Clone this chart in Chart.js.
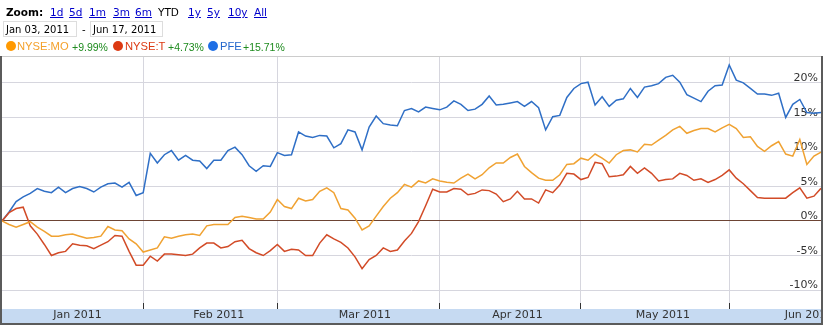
<!DOCTYPE html>
<html>
<head>
<meta charset="utf-8">
<script src="https://cdn.jsdelivr.net/npm/chart.js@4.4.1/dist/chart.umd.min.js"></script>
<style>
html,body{margin:0;padding:0;background:#fff;}
#wrap{position:relative;width:823px;height:325px;overflow:hidden;background:#fff;}
#c{position:absolute;left:0;top:0;}
.t{position:absolute;white-space:nowrap;font-family:"DejaVu Sans",Verdana,sans-serif;line-height:1;z-index:2;}
.r1{font-size:10.5px;top:7px;color:#000;}
.a{color:#0000cc;text-decoration:underline;}
.b{font-weight:bold;}
.box{position:absolute;left:0;top:21px;height:14px;border:1px solid #dddddd;z-index:1;}
.dt{font-size:10px;top:24.5px;color:#000;}
.lg{position:absolute;white-space:nowrap;font-family:"Liberation Sans",Arial,sans-serif;line-height:1;top:41.2px;z-index:2;}
.nm{font-size:11.2px;top:41px;}
.pc{font-size:10.5px;color:#1e8b1e;top:41.6px;}
.dot{position:absolute;top:41px;width:10px;height:10px;border-radius:50%;z-index:2;}
</style>
</head>
<body>
<div id="wrap">
<canvas id="c" width="823" height="325"></canvas>
<span class="t r1 b" style="left:6px">Zoom:</span>
<span class="t r1 a" style="left:50px">1d</span>
<span class="t r1 a" style="left:69px">5d</span>
<span class="t r1 a" style="left:89px">1m</span>
<span class="t r1 a" style="left:113px">3m</span>
<span class="t r1 a" style="left:135px">6m</span>
<span class="t r1" style="left:158px">YTD</span>
<span class="t r1 a" style="left:188px">1y</span>
<span class="t r1 a" style="left:207px">5y</span>
<span class="t r1 a" style="left:228px">10y</span>
<span class="t r1 a" style="left:254px">All</span>
<div class="box" style="left:3px;width:72px"></div>
<span class="t dt" style="left:6px">Jan 03, 2011</span>
<span class="t dt" style="left:82px">-</span>
<div class="box" style="left:90px;width:71px"></div>
<span class="t dt" style="left:93px">Jun 17, 2011</span>
<div id="legend"></div>
</div>
<script>
// ---- data ----
const seriesNames = ['NYSE:MO', 'NYSE:T', 'PFE'];
const seriesChange = ['+9.99%', '+4.73%', '+15.71%'];
const monthLabels = ['Jan 2011', 'Feb 2011', 'Mar 2011', 'Apr 2011', 'May 2011', 'Jun 2011'];
const monthLabelPos = [10.7, 30.7, 51.4, 73.0, 93.6, 114.3];   // trading-day index of label centre
const monthStartIdx = [20, 39, 62, 82, 103];                   // first trading day of Feb..Jun
const yTicks = [-10, -5, 0, 5, 10, 15, 20];

const moValues = [0, -0.5, -0.9, -0.5, -0.1, -0.9, -1.5, -2.2, -2.2, -2.0,
  -1.9, -2.2, -2.5, -2.4, -2.2, -0.8, -1.3, -1.4, -2.6, -3.3,
  -4.5, -4.2, -3.9, -2.3, -2.5, -2.2, -2.0, -1.9, -2.1, -0.7,
  -0.5, -0.5, -0.5, 0.5, 0.7, 0.5, 0.3, 0.3, 1.3, 3.1,
  2.1, 1.8, 3.3, 2.9, 3.1, 4.3, 4.8, 4.1, 1.8, 1.6,
  0.4, -1.3, -0.7, 0.7, 2.1, 3.3, 4.1, 5.3, 4.9, 5.8,
  5.5, 6.1, 5.8, 5.6, 5.5, 6.2, 6.8, 6.1, 6.7, 7.7,
  8.4, 8.4, 9.2, 9.7, 7.9, 7.0, 6.2, 5.9, 5.9, 6.7,
  8.2, 8.3, 9.1, 8.8, 9.7, 9.1, 8.4, 9.6, 10.2, 10.3,
  10.0, 11.1, 11.0, 11.7, 12.4, 13.2, 13.7, 12.7, 13.1, 13.4,
  13.4, 12.9, 13.5, 14.0, 13.4, 12.1, 12.2, 10.8, 10.1, 10.9,
  11.5, 9.7, 9.4, 11.8, 8.2, 9.4, 9.99];

const tValues = [0, 1.2, 1.8, 2.0, -0.7, -1.9, -3.4, -5.0, -4.6, -4.4,
  -3.3, -3.5, -3.6, -4.0, -3.5, -3.0, -2.1, -2.2, -4.4, -6.4,
  -6.4, -5.1, -5.8, -4.8, -4.8, -4.9, -5.0, -4.8, -3.9, -3.2,
  -3.2, -3.9, -3.7, -3.0, -2.8, -4.0, -4.6, -5.0, -4.3, -3.4,
  -4.4, -4.1, -4.2, -5.0, -5.0, -3.2, -2.0, -2.6, -3.1, -3.9,
  -5.2, -6.9, -5.6, -5.0, -3.9, -4.4, -4.2, -2.9, -1.8, -0.1,
  2.2, 4.6, 4.2, 4.2, 4.7, 4.6, 3.8, 4.0, 4.5, 4.4,
  3.9, 2.8, 3.2, 4.3, 3.2, 3.2, 2.6, 4.5, 4.1, 5.2,
  6.9, 6.8, 6.0, 6.3, 8.5, 8.3, 6.4, 6.5, 6.7, 7.9,
  6.9, 7.7, 6.9, 5.8, 6.0, 6.1, 6.9, 6.6, 5.9, 6.1,
  5.6, 6.0, 6.6, 7.4, 6.2, 5.4, 4.4, 3.4, 3.3, 3.3,
  3.3, 3.3, 4.1, 4.8, 3.3, 3.6, 4.73];

const pfeValues = [0, 1.3, 2.8, 3.5, 4.0, 4.7, 4.3, 4.1, 4.9, 4.1,
  4.7, 5.0, 4.7, 4.2, 4.9, 5.4, 5.5, 4.9, 5.6, 3.7,
  4.1, 9.8, 8.4, 9.6, 10.2, 8.8, 9.5, 8.8, 8.7, 7.6,
  8.8, 8.8, 10.2, 10.7, 9.6, 8.0, 7.2, 8.0, 7.9, 9.9,
  9.5, 9.6, 12.9, 12.3, 12.1, 12.4, 12.3, 10.6, 11.2, 13.2,
  12.9, 10.3, 13.6, 15.2, 14.1, 13.9, 13.8, 16.0, 16.3, 15.8,
  16.5, 16.3, 16.1, 16.5, 17.4, 16.9, 16.0, 16.2, 16.9, 18.1,
  16.8, 16.9, 17.1, 17.3, 16.6, 17.3, 16.4, 13.2, 15.1, 15.3,
  17.9, 19.2, 19.9, 20.1, 16.8, 18.0, 16.6, 17.5, 17.7, 19.2,
  17.9, 19.4, 19.6, 19.9, 20.8, 21.1, 20.1, 18.3, 17.8, 17.3,
  18.8, 19.6, 19.7, 22.6, 20.4, 20.0, 19.2, 18.4, 18.4, 18.2,
  18.5, 15.0, 16.9, 17.6, 15.7, 15.6, 15.71];

// ---- styles ----
const lineColors = ['#f0a232', '#d24b27', '#2f6fc6'];
const dotColors = ['#ff9900', '#dc3912', '#1f6fe5'];
const nameColors = ['#f4a02a', '#dc3912', '#2467cc'];
const legendPos = [[6, 17, 72], [113, 125, 168], [208, 220, 243]];

// legend (HTML text)
const lg = document.getElementById('legend');
seriesNames.forEach((n, i) => {
  const [dx, nx, px] = legendPos[i];
  lg.insertAdjacentHTML('beforeend',
    `<div class="dot" style="left:${dx}px;background:${dotColors[i]}"></div>` +
    `<span class="lg nm" style="left:${nx}px;color:${nameColors[i]}">${n}</span>` +
    `<span class="lg pc" style="left:${px}px">${seriesChange[i]}</span>`);
});

const toXY = arr => arr.map((v, i) => ({x: i, y: v}));
const labelMap = new Map(monthLabelPos.map((p, i) => [p, monthLabels[i]]));

const framePlugin = {
  id: 'frame',
  beforeDraw(chart) {
    const {ctx, chartArea: a, width} = chart;
    ctx.save();
    ctx.fillStyle = '#c6daf2';
    ctx.fillRect(0, a.bottom + 6, width, 14);
    ctx.restore();
  },
  afterDraw(chart) {
    const {ctx, chartArea: a, width, height} = chart;
    ctx.save();
    ctx.fillStyle = '#cccccc';
    ctx.fillRect(0, a.top, width, 1);
    ctx.fillStyle = '#5b5b5b';
    ctx.fillRect(0, a.top, 2, height - a.top);
    ctx.fillRect(width - 2, a.top, 2, height - a.top);
    ctx.fillRect(0, height - 2, width, 2);
    ctx.restore();
  }
};

const mk = (label, data, color) => ({
  label, data: toXY(data), borderColor: color, backgroundColor: color,
  borderWidth: 1.5, pointRadius: 0, pointHoverRadius: 0, tension: 0, fill: false
});

new Chart(document.getElementById('c'), {
  type: 'line',
  data: {
    datasets: [
      mk(seriesNames[0], moValues, lineColors[0]),
      mk(seriesNames[1], tValues, lineColors[1]),
      mk(seriesNames[2], pfeValues, lineColors[2])
    ]
  },
  options: {
    responsive: false,
    animation: false,
    devicePixelRatio: 1,
    layout: {padding: {top: 56, left: 2, right: 2, bottom: 2}},
    plugins: {legend: {display: false}, tooltip: {enabled: false}},
    events: [],
    scales: {
      x: {
        type: 'linear', min: 0, max: 116, position: 'bottom',
        border: {display: false},
        afterBuildTicks: s => {
          s.ticks = [...monthStartIdx, ...monthLabelPos].sort((a, b) => a - b).map(v => ({value: v}));
        },
        afterFit: s => { s.height = 20; s.paddingLeft = 0; s.paddingRight = 0; },
        grid: {
          color: c => (c.tick && monthStartIdx.includes(c.tick.value)) ? '#d6d6de' : 'rgba(0,0,0,0)',
          tickColor: c => (c.tick && monthStartIdx.includes(c.tick.value)) ? '#333333' : 'rgba(0,0,0,0)',
          tickLength: 6, drawTicks: true, lineWidth: 1
        },
        ticks: {
          autoSkip: false, maxRotation: 0, minRotation: 0, padding: 0,
          color: '#333333',
          font: {family: '"DejaVu Sans", Verdana, sans-serif', size: 11},
          callback: v => labelMap.get(v) || ''
        }
      },
      y: {
        type: 'linear', min: -11.88, max: 23.9, position: 'right',
        border: {display: false},
        afterBuildTicks: s => { s.ticks = yTicks.map(v => ({value: v})); },
        afterFit: s => { s.width = 0; },
        grid: {
          color: c => (c.tick && c.tick.value === 0) ? '#6d4434' : '#d6d6de',
          drawTicks: false, lineWidth: 1
        },
        ticks: {
          mirror: true, padding: -3, labelOffset: -4.5,
          color: '#333333',
          font: {family: '"DejaVu Sans", Verdana, sans-serif', size: 11},
          callback: v => v + '%'
        }
      }
    }
  },
  plugins: [framePlugin]
});
</script>
</body>
</html>
